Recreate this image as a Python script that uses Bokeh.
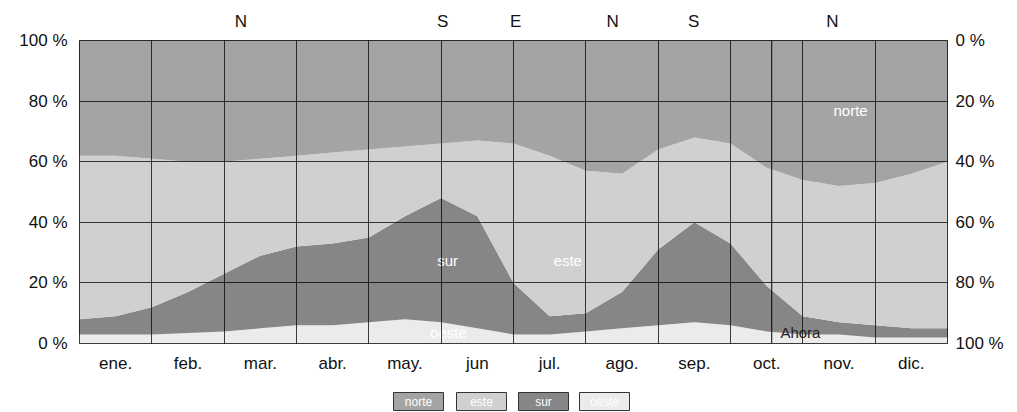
from bokeh.plotting import figure
from bokeh.layouts import column
from bokeh.models import Range1d, LinearAxis, FixedTicker, Span, ColumnDataSource
from bokeh.core.properties import value
from bokeh.embed import file_html
from bokeh.resources import INLINE

FONT = "Liberation Sans"

# month position (0 = 1 ene, 12 = 31 dic), half-month steps
t = [0, 0.5, 1, 1.5, 2, 2.5, 3, 3.5, 4, 4.5, 5, 5.5, 6, 6.5, 7, 7.5, 8, 8.5, 9, 9.5, 10, 10.5, 11, 11.5, 12]

# percentage of hours with wind from each direction
oeste = [3, 3, 3, 3.5, 4, 5, 6, 6, 7, 8, 7, 5, 3, 3, 4, 5, 6, 7, 6, 4, 3, 3, 2, 2, 2]
sur = [5, 6, 9, 13.5, 19, 24, 26, 27, 28, 34, 41, 37, 17, 6, 6, 12, 25, 33, 27, 15, 6, 4, 4, 3, 3]
este = [54, 53, 49, 43, 37, 32, 30, 30, 29, 23, 18, 25, 46, 53, 47, 39, 33, 28, 33, 39, 45, 45, 47, 51, 55]
norte = [38, 38, 39, 40, 40, 39, 38, 37, 36, 35, 34, 33, 34, 38, 43, 44, 36, 32, 34, 42, 46, 48, 47, 44, 40]

months = ["ene.", "feb.", "mar.", "abr.", "may.", "jun", "jul.", "ago.", "sep.", "oct.", "nov.", "dic."]
month_centers = [0.5, 1.5, 2.5, 3.5, 4.5, 5.5, 6.5, 7.5, 8.5, 9.5, 10.5, 11.5]
month_bounds = [1, 2, 3, 4, 5, 6, 7, 8, 9, 10, 11]

# predominant direction markers along the top
dom_labels = ["N", "S", "E", "N", "S", "N"]
dom_centers = [2.23, 5.02, 6.03, 7.37, 8.49, 10.41]

# in-band labels
band_names = ["norte", "este", "sur", "oeste"]
band_x = [10.66, 6.75, 5.09, 5.1]
band_y = [77, 27.5, 27.5, 3.5]

now_m = 9.57

left_ticks = [0, 20, 40, 60, 80, 100]
left_labels = ["0 %", "20 %", "40 %", "60 %", "80 %", "100 %"]
right_labels = ["100 %", "80 %", "60 %", "40 %", "20 %", "0 %"]

colors = {"oeste": "#ebebeb", "sur": "#868686", "este": "#d0d0d0", "norte": "#a4a4a4"}

src = ColumnDataSource(dict(t=t, oeste=oeste, sur=sur, este=este, norte=norte))

W = 1010
BL, BR = 79, 63
p = figure(width=W, height=380, output_backend="svg", toolbar_location=None,
           x_range=Range1d(0, 12), y_range=Range1d(0, 100),
           min_border_left=BL, min_border_right=BR, min_border_top=40, min_border_bottom=37)
p.outline_line_color = "black"
p.outline_line_width = 1
p.background_fill_color = "white"
p.border_fill_color = "white"

order = ["oeste", "sur", "este", "norte"]
p.varea_stack(stackers=order, x="t", color=[colors[k] for k in order], source=src)

# grid
p.xgrid.ticker = FixedTicker(ticks=month_bounds)
p.ygrid.ticker = FixedTicker(ticks=[20, 40, 60, 80])
for g in (p.xgrid, p.ygrid):
    g.grid_line_color = "black"
    g.grid_line_alpha = 0.75
    g.grid_line_width = 1
    g.level = "annotation"


def style_axis(ax, standoff):
    ax.axis_line_color = None
    ax.major_tick_line_color = None
    ax.minor_tick_line_color = None
    ax.major_tick_in = 0
    ax.major_tick_out = 0
    ax.minor_tick_in = 0
    ax.minor_tick_out = 0
    ax.major_label_text_font = FONT
    ax.major_label_text_font_size = "17px"
    ax.major_label_text_color = "#111111"
    ax.major_label_standoff = standoff

xa = p.xaxis[0]
xa.ticker = FixedTicker(ticks=month_centers)
xa.major_label_overrides = {c: m for c, m in zip(month_centers, months)}
style_axis(xa, 10)

ya = p.yaxis[0]
ya.ticker = FixedTicker(ticks=left_ticks)
ya.major_label_overrides = {v: s for v, s in zip(left_ticks, left_labels)}
style_axis(ya, 12)

ra = LinearAxis(ticker=FixedTicker(ticks=left_ticks),
                major_label_overrides={v: s for v, s in zip(left_ticks, right_labels)})
style_axis(ra, 8)
p.add_layout(ra, "right")

ta = LinearAxis(ticker=FixedTicker(ticks=dom_centers),
                major_label_overrides={c: s for c, s in zip(dom_centers, dom_labels)})
style_axis(ta, 10)
p.add_layout(ta, "above")

# now marker
p.add_layout(Span(location=now_m, dimension="height", line_color="black", line_width=1))
p.text(x=[now_m + 0.12], y=[3.5], text=["Ahora"], text_font=value(FONT),
       text_font_size="15px", text_color="#222222", text_baseline="middle")

# in-band labels
p.text(x=band_x, y=band_y, text=band_names, text_font=value(FONT), text_font_size="15px",
       text_color="white", text_align="center", text_baseline="middle")

# legend strip below the chart (pixel coordinates, frame aligned with the chart frame)
leg_x = [418, 481, 543, 604]
LH = 32
leg = figure(width=W, height=LH, output_backend="svg", toolbar_location=None,
             x_range=Range1d(BL, W - BR), y_range=Range1d(0, LH),
             min_border_left=BL, min_border_right=BR,
             min_border_top=0, min_border_bottom=0)
leg.axis.visible = False
leg.grid.visible = False
leg.outline_line_color = None
leg.background_fill_color = "white"
leg.border_fill_color = "white"
leg_src = ColumnDataSource(dict(x=leg_x, y=[LH - 21] * 4, name=band_names,
                                fill=[colors[n] for n in band_names]))
leg.rect(x="x", y="y", width=50, height=18, source=leg_src, fill_color="fill",
         line_color="#333333", line_width=1)
leg.text(x="x", y="y", text="name", source=leg_src, text_font=value(FONT),
         text_font_size="12px", text_color="white", text_align="center",
         text_baseline="middle")

layout = column(p, leg, spacing=0)
open("out.html", "w").write(file_html(layout, INLINE))
